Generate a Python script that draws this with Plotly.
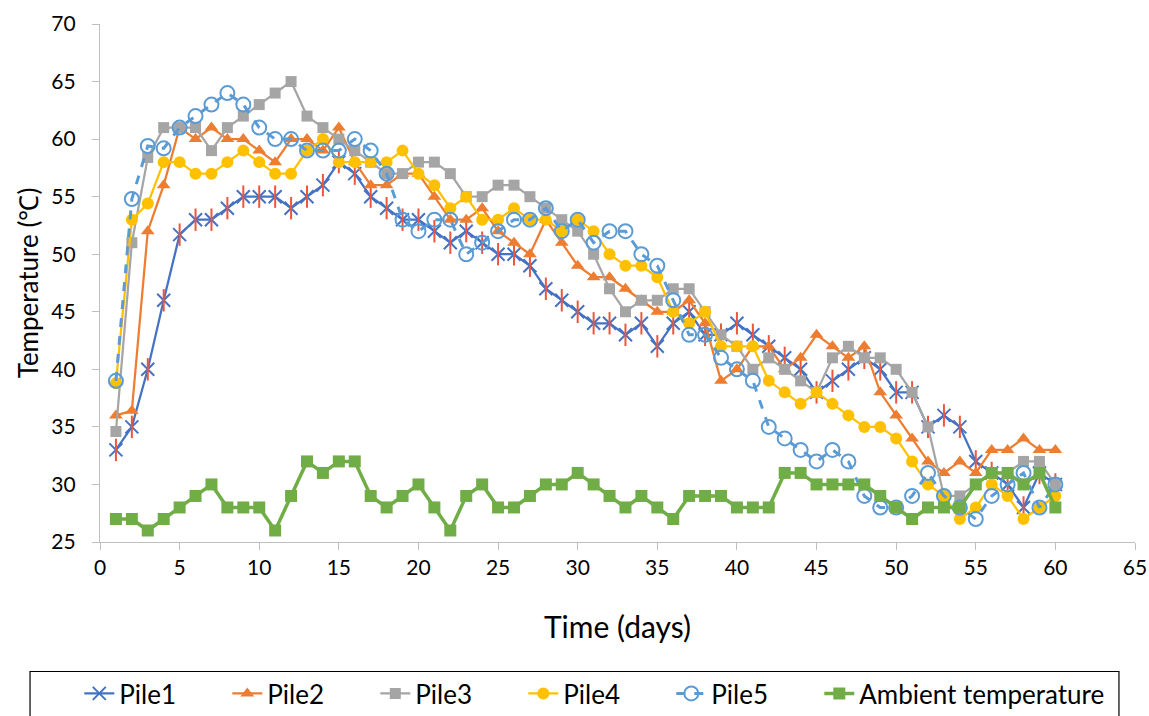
import plotly.graph_objects as go

# Composting temperature record, days 1-60
days = list(range(1, 61))

pile1 = [33, 35, 40, 46, 51.7, 53, 53, 54, 55, 55, 55, 54, 55, 56, 58, 57, 55, 54, 53, 53,
         52, 51, 52, 51, 50, 50, 49, 47, 46, 45, 44, 44, 43, 44, 42, 44, 45, 43, 43, 44,
         43, 42, 41, 40, 38, 39, 40, 41, 40, 38, 38, 35, 36, 35, 32, 31, 30, 28, 31, 30]

pile2 = [36, 36.4, 52, 56, 61, 60, 61, 60, 60, 59, 58, 60, 60, 59, 61, 58, 56, 56, 57, 57,
         55, 53, 53, 54, 52, 51, 50, 53, 51, 49, 48, 48, 47, 46, 45, 45, 46, 44, 39, 40,
         42, 42, 40, 41, 43, 42, 41, 42, 38, 36, 34, 32, 31, 32, 31, 33, 33, 34, 33, 33]

pile3 = [34.6, 51, 58.4, 61, 61, 61, 59, 61, 62, 63, 64, 65, 62, 61, 60, 59, 58, 57, 57, 58,
         58, 57, 55, 55, 56, 56, 55, 54, 53, 52, 50, 47, 45, 46, 46, 47, 47, 45, 43, 42,
         40, 41, 40, 39, 38, 41, 42, 41, 41, 40, 38, 35, 29, 29, 30, 31, 31, 32, 32, 30]

pile4 = [38.8, 53, 54.4, 58, 58, 57, 57, 58, 59, 58, 57, 57, 59, 60, 58, 58, 58, 58, 59, 57,
         56, 54, 55, 53, 53, 54, 53, 53, 52, 53, 52, 50, 49, 49, 48, 45, 44, 45, 42, 42,
         42, 39, 38, 37, 38, 37, 36, 35, 35, 34, 32, 30, 29, 27, 28, 30, 29, 27, 28, 29]

pile5 = [39, 54.8, 59.4, 59.2, 61, 62, 63, 64, 63, 61, 60, 60, 59, 59, 59, 60, 59, 57, 53, 52,
         53, 53, 50, 51, 52, 53, 53, 54, 52, 53, 51, 52, 52, 50, 49, 46, 43, 43, 41, 40,
         39, 35, 34, 33, 32, 33, 32, 29, 28, 28, 29, 31, 29, 28, 27, 29, 30, 31, 28, 30]

ambient = [27, 27, 26, 27, 28, 29, 30, 28, 28, 28, 26, 29, 32, 31, 32, 32, 29, 28, 29, 30,
           28, 26, 29, 30, 28, 28, 29, 30, 30, 31, 30, 29, 28, 29, 28, 27, 29, 29, 29, 28,
           28, 28, 31, 31, 30, 30, 30, 30, 29, 28, 27, 28, 28, 28, 30, 31, 31, 30, 31, 28]

x_ticks = list(range(0, 70, 5))
y_ticks = list(range(25, 75, 5))

FONT = "Lato"
AXIS_GREY = "#BFBFBF"
LW = 2.25

fig = go.Figure()

# Pile1: star marker = thin X plus a vertical stroke
fig.add_trace(go.Scatter(
    x=days, y=pile1, name="Pile1", mode="lines+markers", legendgroup="p1",
    line=dict(color="#4472C4", width=LW),
    marker=dict(symbol="x-thin-open", size=13, line=dict(color="#4472C4", width=2)),
))
fig.add_trace(go.Scatter(
    x=days, y=pile1, name="Pile1", mode="markers", legendgroup="p1", showlegend=False,
    marker=dict(symbol="line-ns-open", size=16, line=dict(color="#4472C4", width=2)),
))
fig.add_trace(go.Scatter(
    x=days, y=pile2, name="Pile2", mode="lines+markers",
    line=dict(color="#ED7D31", width=LW),
    marker=dict(symbol="triangle-up", size=12, color="#ED7D31"),
))
fig.add_trace(go.Scatter(
    x=days, y=pile3, name="Pile3", mode="lines+markers",
    line=dict(color="#A5A5A5", width=LW),
    marker=dict(symbol="square", size=11, color="#A5A5A5"),
))
fig.add_trace(go.Scatter(
    x=days, y=pile4, name="Pile4", mode="lines+markers",
    line=dict(color="#FFC000", width=LW),
    marker=dict(symbol="circle", size=12, color="#FFC000"),
))
fig.add_trace(go.Scatter(
    x=days, y=pile5, name="Pile5", mode="lines+markers",
    line=dict(color="#5B9BD5", width=3, dash="dash"),
    marker=dict(symbol="circle-open", size=14, line=dict(color="#5B9BD5", width=2)),
))
fig.add_trace(go.Scatter(
    x=days, y=ambient, name="Ambient temperature", mode="lines+markers",
    line=dict(color="#70AD47", width=3.5),
    marker=dict(symbol="square", size=12, color="#70AD47"),
))
# empty trailing legend slot so the last (long) label is not clipped
fig.add_trace(go.Scatter(
    x=[None], y=[None], name=" ", mode="lines",
    line=dict(color="rgba(0,0,0,0)", width=0), hoverinfo="skip",
))

fig.update_layout(
    width=1149, height=716,
    margin=dict(l=100, r=14, t=24, b=174, autoexpand=False),
    paper_bgcolor="white", plot_bgcolor="white",
    font=dict(family=FONT, color="#000000"),
    showlegend=True,
    legend=dict(
        orientation="h", x=-0.020, xanchor="left", y=-0.2925, yanchor="middle",
        font=dict(size=26, family=FONT, color="#000000"),
        bgcolor="rgba(0,0,0,0)", borderwidth=0,
        entrywidth=103, entrywidthmode="pixels",
        tracegroupgap=0,
    ),
    shapes=[dict(
        type="rect", xref="paper", yref="paper",
        x0=-0.0676, x1=0.9845, y0=-0.25, y1=-0.42,
        line=dict(color="#000000", width=1.2), fillcolor="rgba(0,0,0,0)", layer="below",
    )],
)

fig.update_xaxes(
    range=[0, 65], tickvals=x_ticks, ticktext=[str(v) for v in x_ticks],
    showgrid=False, zeroline=False,
    showline=True, linecolor=AXIS_GREY, linewidth=1.3,
    ticks="outside", ticklen=7, tickcolor=AXIS_GREY, tickwidth=1.3,
    tickfont=dict(size=21, family=FONT, color="#000000"),
    title=dict(text="Time (days)", font=dict(size=30, family=FONT, color="#000000"), standoff=38),
)
fig.update_yaxes(
    range=[25, 70], tickvals=y_ticks, ticktext=[str(v) for v in y_ticks],
    showgrid=False, zeroline=False,
    showline=True, linecolor=AXIS_GREY, linewidth=1.3,
    ticks="outside", ticklen=7, tickcolor=AXIS_GREY, tickwidth=1.3,
    ticklabelstandoff=12,
    tickfont=dict(size=21, family=FONT, color="#000000"),
    title=dict(text="Temperature (℃)", font=dict(size=26, family=FONT, color="#000000"), standoff=5),
)

fig.write_html("out.html")
